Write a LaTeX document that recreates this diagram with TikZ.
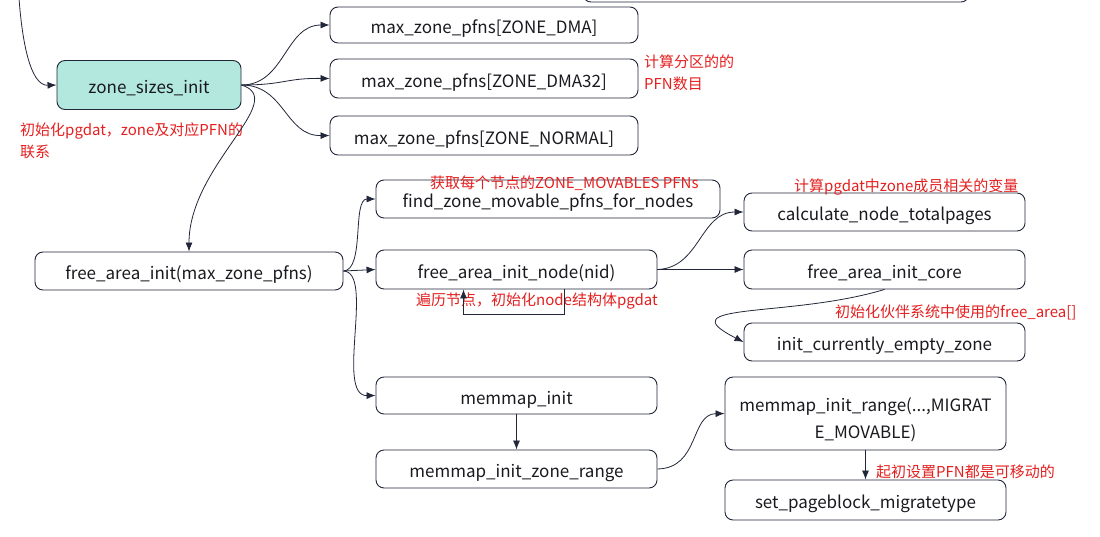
\documentclass[tikz,border=0pt]{standalone}
\usepackage{fontspec}
\setmainfont{Noto Sans CJK SC}
\usetikzlibrary{arrows.meta}

\begin{document}
\begin{tikzpicture}[x=1pt, y=-1pt, box/.style={draw=fnInk, line width=0.9pt, rounded corners=8pt, inner sep=0pt, minimum width=281pt, minimum height=38pt, align=center, font=\fontsize{17}{27}\selectfont, text=fnText, text height=17pt, text depth=0pt}, hot/.style={box, fill=fnTeal}, conn/.style={-{Latex[length=9pt, width=7pt]}, line width=0.8pt, fnInk}, note/.style={font=\fontsize{15}{22}\selectfont, text=fnRed, align=left, inner sep=0pt, anchor=north west}]
\definecolor{fnInk}{rgb}{0.13,0.15,0.22}
\definecolor{fnText}{rgb}{0.10,0.10,0.12}
\definecolor{fnTeal}{rgb}{0.70,0.91,0.87}
\definecolor{fnRed}{rgb}{0.89,0.12,0.12}
\clip (0,0) rectangle (1100,536);
\node[box, minimum width=386pt, minimum height=40pt] (topBox) at (776,-18) {};
\coordinate (fromAbove) at (19,-2);
\node[hot, minimum width=184pt, minimum height=49pt] (zoneSizes) at (149,85) {zone\_sizes\_init};
\node[box, minimum width=308pt, minimum height=36pt] (dma) at (484,25) {max\_zone\_pfns[ZONE\_DMA]};
\node[box, minimum width=308pt, minimum height=39pt] (dma32) at (484,78.5) {max\_zone\_pfns[ZONE\_DMA32]};
\node[box, minimum width=308pt, minimum height=39pt] (normal) at (484,135.5) {max\_zone\_pfns[ZONE\_NORMAL]};
\node[box, minimum width=308pt] (freeArea) at (189,271) {free\_area\_init(max\_zone\_pfns)};
\node[box, minimum width=344pt] (findMovable) at (548,199) {find\_zone\_movable\_pfns\_for\_nodes};
\node[box, minimum height=39pt] (initNode) at (516.5,269.5) {free\_area\_init\_node(nid)};
\node[box] (totalPages) at (884.5,212) {calculate\_node\_totalpages};
\node[box, minimum height=39pt] (initCore) at (884.5,269.5) {free\_area\_init\_core};
\node[box] (emptyZone) at (884.5,342) {init\_currently\_empty\_zone};
\node[box, minimum height=37pt] (memmapInit) at (516.5,395.5) {memmap\_init};
\node[box] (zoneRange) at (516.5,469) {memmap\_init\_zone\_range};
\node[box, minimum height=73pt, text height=49pt] (initRange) at (865.5,413.5) {memmap\_init\_range(...,MIGRAT\\E\_MOVABLE)};
\node[box, minimum height=40pt] (migrateType) at (865.5,500) {set\_pageblock\_migratetype};
\node[note] (dmaNote) at (644,54.5) {计算分区的的\\PFN数目};
\node[note] (linkNote) at (20,122.5) {初始化pgdat，zone及对应PFN的\\联系};
\node[note] (movableNote) at (430,175.5) {获取每个节点的ZONE\_MOVABLES PFNs};
\node[note] (walkNote) at (416,292.5) {遍历节点，初始化node结构体pgdat};
\node[note] (pagesNote) at (794,178.5) {计算pgdat中zone成员相关的变量};
\node[note] (buddyNote) at (835,304.5) {初始化伙伴系统中使用的free\_area[]};
\node[note] (typeNote) at (876,464.5) {起初设置PFN都是可移动的};
\draw[conn] (fromAbove) .. controls (22,40) and (30,86) .. (zoneSizes.west);
\draw[conn] (zoneSizes.east) .. controls (285,85) and (285,25) .. (dma.west);
\draw[conn] (zoneSizes.east) .. controls (285,85) and (285,78) .. (dma32.west);
\draw[conn] (zoneSizes.east) .. controls (285,85) and (285,136) .. (normal.west);
\draw[conn] (zoneSizes.east) .. controls (290,100) and (189,165) .. (freeArea.north);
\draw[conn] (freeArea.east) .. controls (365,270) and (352,199) .. (findMovable.west);
\draw[conn] (freeArea.east) -- (initNode.west);
\draw[conn] (freeArea.east) .. controls (375,272) and (335,396) .. (memmapInit.west);
\draw[conn] (initNode.east) .. controls (700,268) and (700,212) .. (totalPages.west);
\draw[conn] (initNode.east) -- (initCore.west);
\draw[conn] ([xshift=48pt]initNode.south) -- ++(0,25) -| ([xshift=-53pt]initNode.south);
\draw[conn] (initCore.south) .. controls (790,318) and (665,302) .. (emptyZone.west);
\draw[conn] (memmapInit.south) -- (zoneRange.north);
\draw[conn] (zoneRange.east) .. controls (700,468) and (690,414) .. (initRange.west);
\draw[conn] (initRange.south) -- (migrateType.north);
\end{tikzpicture}
\end{document}
